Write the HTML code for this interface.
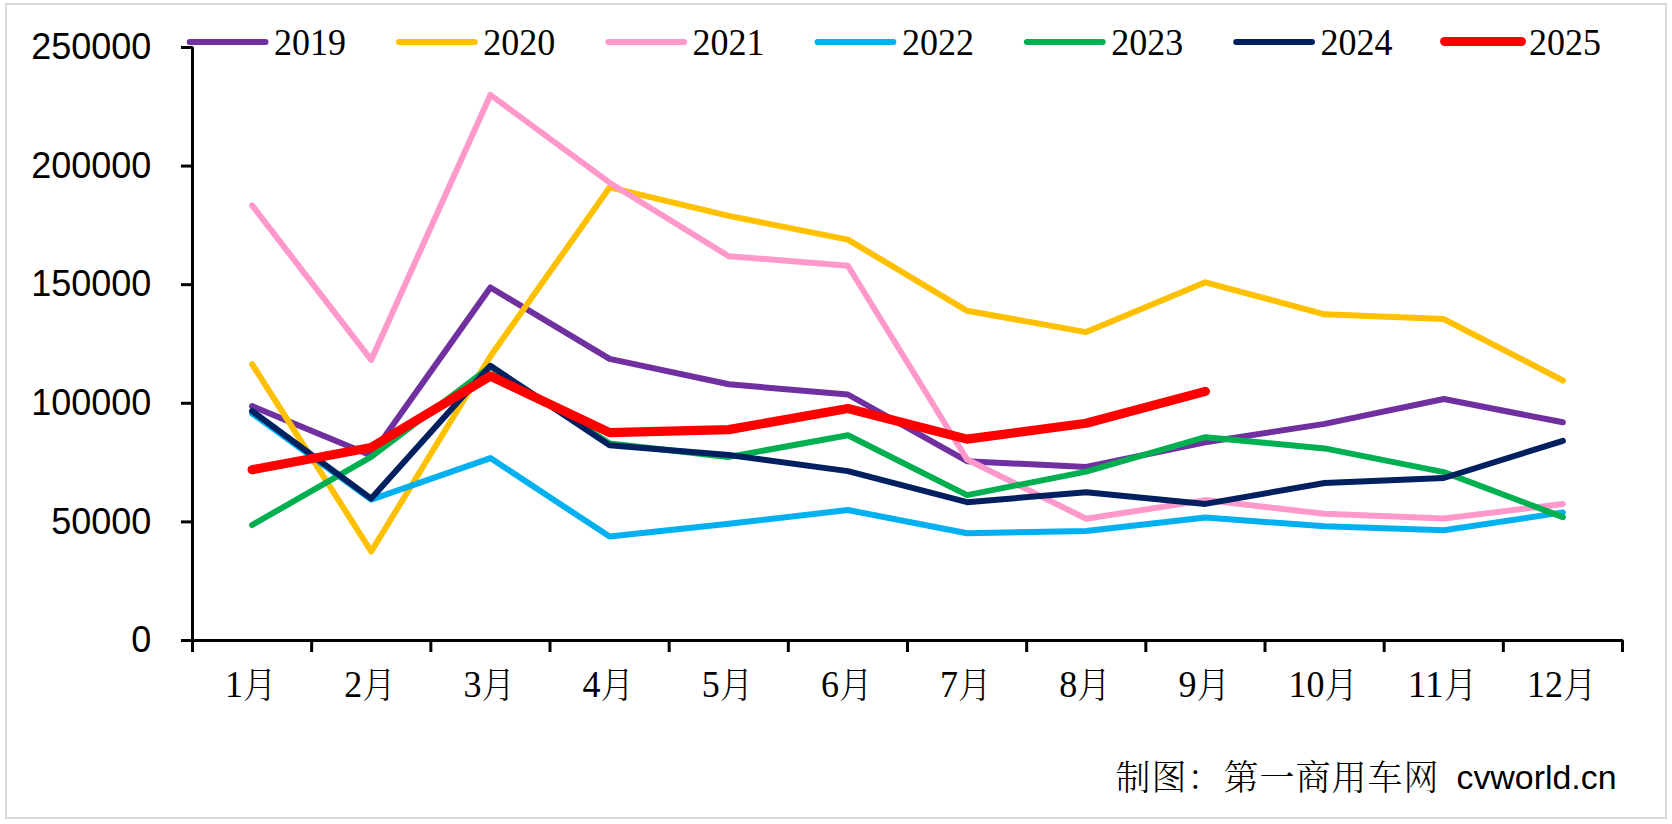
<!DOCTYPE html>
<html lang="zh-CN"><head><meta charset="utf-8"><title>chart</title>
<style>html,body{margin:0;padding:0;background:#fff}body{width:1672px;height:824px;overflow:hidden}svg{display:block}
.ax{font-family:"Liberation Sans",sans-serif;font-size:36px;fill:#000}
.ser{font-family:"Liberation Serif","Noto Serif CJK SC",serif;font-size:37.5px;fill:#000}
.cjk{font-family:"Liberation Serif","Noto Serif CJK SC",serif;font-size:36px;fill:#000;font-weight:300}
.ft{font-family:"Liberation Serif","Noto Serif CJK SC",serif;font-size:35px;letter-spacing:1px;fill:#000;font-weight:300}
.cv{font-family:"Liberation Sans",sans-serif;font-size:34px;fill:#000}
</style></head><body>
<svg width="1672" height="824" viewBox="0 0 1672 824">
<rect x="0" y="0" width="1672" height="824" fill="#fff"/>
<rect x="6" y="4" width="1660" height="814" fill="none" stroke="#d9d9d9" stroke-width="2"/>
<polyline points="252.1,406.1 371.2,455.5 490.4,287.5 609.6,358.9 728.8,384.3 847.9,394.5 967.1,461.2 1086.2,466.9 1205.4,442.2 1324.6,423.9 1443.8,399.0 1562.9,422.3" fill="none" stroke="#7030A0" stroke-width="6" stroke-linecap="round" stroke-linejoin="round"/>
<polyline points="252.1,364.1 371.2,551.5 490.4,356.3 609.6,187.4 728.8,215.9 847.9,239.6 967.1,310.8 1086.2,332.1 1205.4,282.3 1324.6,314.3 1443.8,319.1 1562.9,380.5" fill="none" stroke="#FFC000" stroke-width="6" stroke-linecap="round" stroke-linejoin="round"/>
<polyline points="252.1,205.4 371.2,359.9 490.4,94.9 609.6,182.7 728.8,256.2 847.9,265.7 967.1,459.5 1086.2,518.8 1205.4,500.1 1324.6,513.8 1443.8,518.6 1562.9,504.1" fill="none" stroke="#FF99CC" stroke-width="6" stroke-linecap="round" stroke-linejoin="round"/>
<polyline points="252.1,413.5 371.2,499.6 490.4,458.1 609.6,536.6 728.8,523.8 847.9,510.0 967.1,533.3 1086.2,530.9 1205.4,517.6 1324.6,526.2 1443.8,530.2 1562.9,512.4" fill="none" stroke="#00B0F0" stroke-width="6" stroke-linecap="round" stroke-linejoin="round"/>
<polyline points="252.1,525.0 371.2,456.9 490.4,366.7 609.6,443.4 728.8,456.9 847.9,435.3 967.1,495.1 1086.2,471.6 1205.4,437.2 1324.6,448.4 1443.8,472.1 1562.9,517.1" fill="none" stroke="#00B050" stroke-width="6" stroke-linecap="round" stroke-linejoin="round"/>
<polyline points="252.1,411.1 371.2,498.6 490.4,365.8 609.6,445.3 728.8,455.0 847.9,471.1 967.1,502.2 1086.2,492.2 1205.4,503.9 1324.6,483.0 1443.8,478.0 1562.9,440.8" fill="none" stroke="#002060" stroke-width="6" stroke-linecap="round" stroke-linejoin="round"/>
<polyline points="252.1,469.7 371.2,447.4 490.4,376.0 609.6,432.7 728.8,429.6 847.9,408.5 967.1,439.1 1086.2,423.2 1205.4,391.4" fill="none" stroke="#FF0000" stroke-width="9.2" stroke-linecap="round" stroke-linejoin="round"/>
<g stroke="#000" stroke-width="3" fill="none" stroke-linejoin="bevel">
<path d="M181 47.45 H192.50 V652"/>
<path d="M181 640.50 H1622.50 V652"/>
<path d="M181 521.89 H192.50"/>
<path d="M181 403.28 H192.50"/>
<path d="M181 284.67 H192.50"/>
<path d="M181 166.06 H192.50"/>
<path d="M311.67 640.50 V652"/>
<path d="M430.83 640.50 V652"/>
<path d="M550.00 640.50 V652"/>
<path d="M669.17 640.50 V652"/>
<path d="M788.33 640.50 V652"/>
<path d="M907.50 640.50 V652"/>
<path d="M1026.67 640.50 V652"/>
<path d="M1145.83 640.50 V652"/>
<path d="M1265.00 640.50 V652"/>
<path d="M1384.17 640.50 V652"/>
<path d="M1503.33 640.50 V652"/>
</g>
<text class="ax" x="151.3" y="652.1" text-anchor="end">0</text>
<text class="ax" x="151.3" y="533.5" text-anchor="end">50000</text>
<text class="ax" x="151.3" y="414.9" text-anchor="end">100000</text>
<text class="ax" x="151.3" y="296.3" text-anchor="end">150000</text>
<text class="ax" x="151.3" y="177.7" text-anchor="end">200000</text>
<text class="ax" x="151.3" y="59.1" text-anchor="end">250000</text>
<text class="ser" x="225.1" y="697.3" textLength="18" lengthAdjust="spacingAndGlyphs">1</text>
<text class="cjk" x="243.1" y="698.0" textLength="33.5" lengthAdjust="spacingAndGlyphs">月</text>
<text class="ser" x="344.2" y="697.3" textLength="18" lengthAdjust="spacingAndGlyphs">2</text>
<text class="cjk" x="362.2" y="698.0" textLength="33.5" lengthAdjust="spacingAndGlyphs">月</text>
<text class="ser" x="463.4" y="697.3" textLength="18" lengthAdjust="spacingAndGlyphs">3</text>
<text class="cjk" x="481.4" y="698.0" textLength="33.5" lengthAdjust="spacingAndGlyphs">月</text>
<text class="ser" x="582.6" y="697.3" textLength="18" lengthAdjust="spacingAndGlyphs">4</text>
<text class="cjk" x="600.6" y="698.0" textLength="33.5" lengthAdjust="spacingAndGlyphs">月</text>
<text class="ser" x="701.8" y="697.3" textLength="18" lengthAdjust="spacingAndGlyphs">5</text>
<text class="cjk" x="719.8" y="698.0" textLength="33.5" lengthAdjust="spacingAndGlyphs">月</text>
<text class="ser" x="820.9" y="697.3" textLength="18" lengthAdjust="spacingAndGlyphs">6</text>
<text class="cjk" x="838.9" y="698.0" textLength="33.5" lengthAdjust="spacingAndGlyphs">月</text>
<text class="ser" x="940.1" y="697.3" textLength="18" lengthAdjust="spacingAndGlyphs">7</text>
<text class="cjk" x="958.1" y="698.0" textLength="33.5" lengthAdjust="spacingAndGlyphs">月</text>
<text class="ser" x="1059.2" y="697.3" textLength="18" lengthAdjust="spacingAndGlyphs">8</text>
<text class="cjk" x="1077.2" y="698.0" textLength="33.5" lengthAdjust="spacingAndGlyphs">月</text>
<text class="ser" x="1178.4" y="697.3" textLength="18" lengthAdjust="spacingAndGlyphs">9</text>
<text class="cjk" x="1196.4" y="698.0" textLength="33.5" lengthAdjust="spacingAndGlyphs">月</text>
<text class="ser" x="1288.6" y="697.3" textLength="36" lengthAdjust="spacingAndGlyphs">10</text>
<text class="cjk" x="1324.6" y="698.0" textLength="33.5" lengthAdjust="spacingAndGlyphs">月</text>
<text class="ser" x="1407.8" y="697.3" textLength="36" lengthAdjust="spacingAndGlyphs">11</text>
<text class="cjk" x="1443.8" y="698.0" textLength="33.5" lengthAdjust="spacingAndGlyphs">月</text>
<text class="ser" x="1526.9" y="697.3" textLength="36" lengthAdjust="spacingAndGlyphs">12</text>
<text class="cjk" x="1562.9" y="698.0" textLength="33.5" lengthAdjust="spacingAndGlyphs">月</text>
<path d="M189.7 41.9 H265.5" stroke="#7030A0" stroke-width="6" stroke-linecap="round" fill="none"/>
<text class="ser" x="274.0" y="55.2" textLength="72" lengthAdjust="spacingAndGlyphs">2019</text>
<path d="M399.0 41.9 H474.8" stroke="#FFC000" stroke-width="6" stroke-linecap="round" fill="none"/>
<text class="ser" x="483.3" y="55.2" textLength="72" lengthAdjust="spacingAndGlyphs">2020</text>
<path d="M608.3 41.9 H684.1" stroke="#FF99CC" stroke-width="6" stroke-linecap="round" fill="none"/>
<text class="ser" x="692.6" y="55.2" textLength="72" lengthAdjust="spacingAndGlyphs">2021</text>
<path d="M817.6 41.9 H893.4" stroke="#00B0F0" stroke-width="6" stroke-linecap="round" fill="none"/>
<text class="ser" x="901.9" y="55.2" textLength="72" lengthAdjust="spacingAndGlyphs">2022</text>
<path d="M1026.9 41.9 H1102.7" stroke="#00B050" stroke-width="6" stroke-linecap="round" fill="none"/>
<text class="ser" x="1111.2" y="55.2" textLength="72" lengthAdjust="spacingAndGlyphs">2023</text>
<path d="M1236.2 41.9 H1312.0" stroke="#002060" stroke-width="6" stroke-linecap="round" fill="none"/>
<text class="ser" x="1320.5" y="55.2" textLength="72" lengthAdjust="spacingAndGlyphs">2024</text>
<path d="M1444.7 41.5 H1521.4" stroke="#FF0000" stroke-width="9.2" stroke-linecap="round" fill="none"/>
<text class="ser" x="1529.0" y="55.2" textLength="72" lengthAdjust="spacingAndGlyphs">2025</text>
<text class="ft" x="1115.5" y="790.3">制图：第一商用车网</text>
<text class="cv" x="1456.5" y="788.9" textLength="160" lengthAdjust="spacingAndGlyphs">cvworld.cn</text>
</svg></body></html>
